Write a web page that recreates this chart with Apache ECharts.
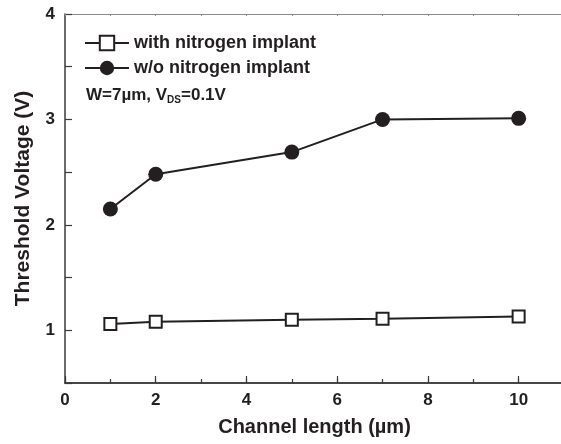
<!DOCTYPE html>
<html>
<head>
<meta charset="utf-8">
<script src="https://cdn.jsdelivr.net/npm/echarts@6/dist/echarts.min.js"></script>
<style>
  html, body { margin: 0; padding: 0; background: #fff; }
  #chart { width: 561px; height: 444px; }
</style>
</head>
<body>
<div id="chart"></div>
<script>
// Channel lengths (µm) and measured threshold voltages (V)
const channelLength = [1, 2, 5, 7, 10];
const vthWithN = [1.06, 1.08, 1.10, 1.11, 1.13];
const vthWithoutN = [2.15, 2.48, 2.69, 3.00, 3.01];
const seriesNames = ['with nitrogen implant', 'w/o nitrogen implant'];
const yTickLabels = ['1', '2', '3', '4'];
const xTickLabels = ['0', '2', '4', '6', '8', '10'];

const ink = '#231f20';
const axisInk = '#3a3a3a';
const font = 'Liberation Sans, Arial, Helvetica, sans-serif';

const pairs = (xs, ys) => xs.map((x, i) => [x, ys[i]]);

const chart = echarts.init(document.getElementById('chart'), null, { renderer: 'canvas' });

chart.setOption({
  animation: false,
  backgroundColor: '#fff',
  textStyle: { fontFamily: font },
  grid: { left: 65, top: 14, right: -3, bottom: 61, containLabel: false, outerBoundsMode: 'none' },
  title: {
    left: 86, top: 85, padding: 0,
    text: 'W=7\u00b5m, V{sub|DS}=0.1V',
    textStyle: {
      fontFamily: font, fontWeight: 'bold', fontSize: 17, color: ink,
      rich: { sub: { fontFamily: font, fontWeight: 'bold', fontSize: 10, color: ink, verticalAlign: 'bottom', padding: [10, 0, 0, 0] } }
    }
  },
  legend: {
    orient: 'vertical', left: 84, top: 34, padding: 0,
    itemWidth: 44, itemHeight: 18, itemGap: 7,
    data: seriesNames,
    textStyle: { fontFamily: font, fontWeight: 'bold', fontSize: 18, color: ink }
  },
  xAxis: [{
    // labelled axis: major ticks every 2 µm
    type: 'value', min: 0, max: 11, interval: 2,
    name: 'Channel length (\u00b5m)', nameLocation: 'middle', nameGap: 34,
    nameTextStyle: { fontFamily: font, fontWeight: 'bold', fontSize: 20, color: ink },
    axisLine: { onZero: false, lineStyle: { color: axisInk, width: 1.5 } },
    axisTick: { inside: true, length: 7, lineStyle: { color: axisInk, width: 1.2 } },
    axisLabel: {
      margin: 9, fontFamily: font, fontWeight: 'bold', fontSize: 17, color: ink,
      formatter: v => xTickLabels.includes(String(v)) ? String(v) : ''
    },
    splitLine: { show: false }
  }, {
    // short ticks every 1 µm
    type: 'value', min: 0, max: 11, interval: 1, position: 'bottom',
    axisLine: { onZero: false, lineStyle: { color: axisInk, width: 1.5 } },
    axisTick: { inside: true, length: 4, lineStyle: { color: axisInk, width: 1.2 } },
    axisLabel: { show: false },
    splitLine: { show: false }
  }, {
    type: 'value', min: 0, max: 11, interval: 1, position: 'top',
    axisLine: { onZero: false, lineStyle: { color: '#8a8a8a', width: 1 } },
    axisTick: { inside: true, length: 2, lineStyle: { color: '#8a8a8a' } },
    axisLabel: { show: false },
    splitLine: { show: false }
  }],
  yAxis: {
    type: 'value', min: 0.5, max: 4, interval: 0.5,
    name: 'Threshold Voltage (V)', nameLocation: 'middle', nameGap: 31,
    nameTextStyle: { fontFamily: font, fontWeight: 'bold', fontSize: 21, color: ink },
    axisLine: { lineStyle: { color: axisInk, width: 1.5 } },
    axisTick: { inside: true, length: 7, lineStyle: { color: axisInk, width: 1.2 } },
    axisLabel: {
      margin: 10, fontFamily: font, fontWeight: 'bold', fontSize: 17, color: ink,
      formatter: v => yTickLabels.includes(String(v)) ? String(v) : ''
    },
    splitLine: { show: false }
  },
  series: [{
    name: seriesNames[0], type: 'line',
    data: pairs(channelLength, vthWithN),
    symbol: 'rect', symbolSize: 12,
    lineStyle: { color: ink, width: 2 },
    itemStyle: { color: '#fff', borderColor: ink, borderWidth: 2 },
    z: 3
  }, {
    name: seriesNames[1], type: 'line',
    data: pairs(channelLength, vthWithoutN),
    symbol: 'circle', symbolSize: 15,
    lineStyle: { color: ink, width: 2 },
    itemStyle: { color: ink, borderColor: ink, borderWidth: 0 },
    z: 3
  }]
});
</script>
</body>
</html>
